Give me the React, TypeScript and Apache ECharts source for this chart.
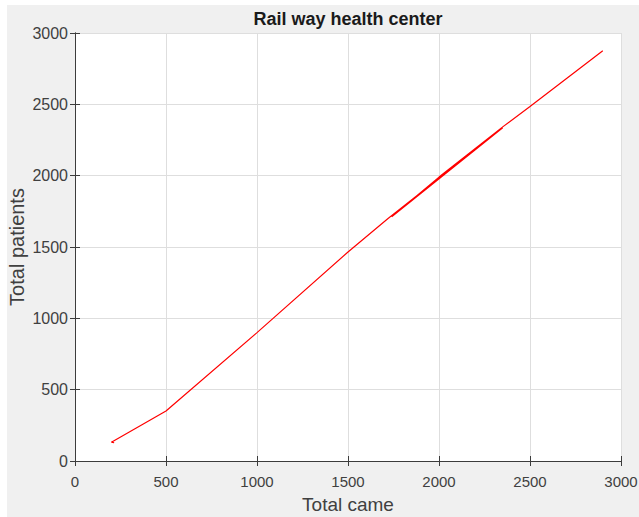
import React, { useEffect, useRef } from "react";
import * as echarts from "echarts";

const titleText = "Rail way health center";
const xAxisName = "Total came";
const yAxisName = "Total patients";
const xTickValues = [0, 500, 1000, 1500, 2000, 2500, 3000];
const yTickValues = [0, 500, 1000, 1500, 2000, 2500, 3000];
const totalCame = [215, 200, 500, 1000, 1500, 1720, 2000, 2350, 1740, 2000, 2350, 2500, 2900];
const totalPatients = [128, 132, 350, 900, 1465, 1700, 1982, 2335, 1712, 1990, 2342, 2485, 2875];

const FONT = "'Liberation Sans', Arial, Helvetica, sans-serif";
const AXIS_COLOR = "#3c3c3c";
const TEXT_COLOR = "#404040";

export default function App() {
  const ref = useRef<HTMLDivElement>(null);
  useEffect(() => {
    if (!ref.current) return;
    const chart = echarts.init(ref.current, undefined, { renderer: "svg" });
    const data = totalCame.map((x, i) => [x, totalPatients[i]]);
    const xMin = xTickValues[0];
    const xMax = xTickValues[xTickValues.length - 1];
    const yMin = yTickValues[0];
    const yMax = yTickValues[yTickValues.length - 1];
    const interval = xTickValues[1] - xTickValues[0];
    const yInterval = yTickValues[1] - yTickValues[0];
    const plain = (v: number) => String(v);
    const commonAxis = {
      type: "value" as const,
      axisLine: { show: true, lineStyle: { color: AXIS_COLOR, width: 1 } },
      axisTick: { show: true, inside: true, length: 5, lineStyle: { color: AXIS_COLOR } },
    };
    chart.setOption({
      animation: false,
      backgroundColor: "#f0f0f0",
      textStyle: { fontFamily: FONT },
      graphic: [
        {
          type: "text",
          x: 341,
          y: 13.6,
          style: {
            text: titleText,
            fontFamily: FONT,
            fontSize: 18,
            fontWeight: "bold",
            fill: "#1a1a1a",
            textAlign: "center",
            textVerticalAlign: "middle",
          },
        },
      ],
      grid: {
        left: 68,
        top: 28,
        right: 18,
        bottom: 56,
        containLabel: false,
        outerBoundsMode: "none",
        show: true,
        backgroundColor: "#ffffff",
        borderWidth: 0,
      },
      xAxis: [
        {
          ...commonAxis,
          position: "bottom",
          min: xMin,
          max: xMax,
          interval,
          name: xAxisName,
          nameLocation: "middle",
          nameGap: 34,
          nameMoveOverlap: false,
          nameTextStyle: { fontFamily: FONT, fontSize: 19, color: TEXT_COLOR },
          axisLabel: { fontFamily: FONT, fontSize: 15, color: TEXT_COLOR, margin: 13, formatter: plain },
          splitLine: { show: true, lineStyle: { color: "#dedede", width: 1 } },
        },
        {
          ...commonAxis,
          position: "top",
          min: xMin,
          max: xMax,
          interval,
          axisLabel: { show: false },
          splitLine: { show: false },
        },
      ],
      yAxis: [
        {
          ...commonAxis,
          position: "left",
          min: yMin,
          max: yMax,
          interval: yInterval,
          name: yAxisName,
          nameLocation: "middle",
          nameGap: 48,
          nameMoveOverlap: false,
          nameTextStyle: { fontFamily: FONT, fontSize: 20, color: TEXT_COLOR },
          axisLabel: { fontFamily: FONT, fontSize: 16, color: TEXT_COLOR, margin: 7, formatter: plain },
          splitLine: { show: true, lineStyle: { color: "#dedede", width: 1 } },
        },
        {
          ...commonAxis,
          position: "right",
          min: yMin,
          max: yMax,
          interval: yInterval,
          axisLabel: { show: false },
          splitLine: { show: false },
        },
      ],
      series: [
        {
          type: "line",
          data,
          showSymbol: false,
          symbol: "none",
          lineStyle: { color: "#ff0000", width: 1.2 },
          silent: true,
        },
      ],
    });
    return () => chart.dispose();
  }, []);
  return (
    <div
      ref={ref}
      style={{ position: "absolute", left: 7, top: 5, width: 632, height: 512 }}
    />
  );
}
